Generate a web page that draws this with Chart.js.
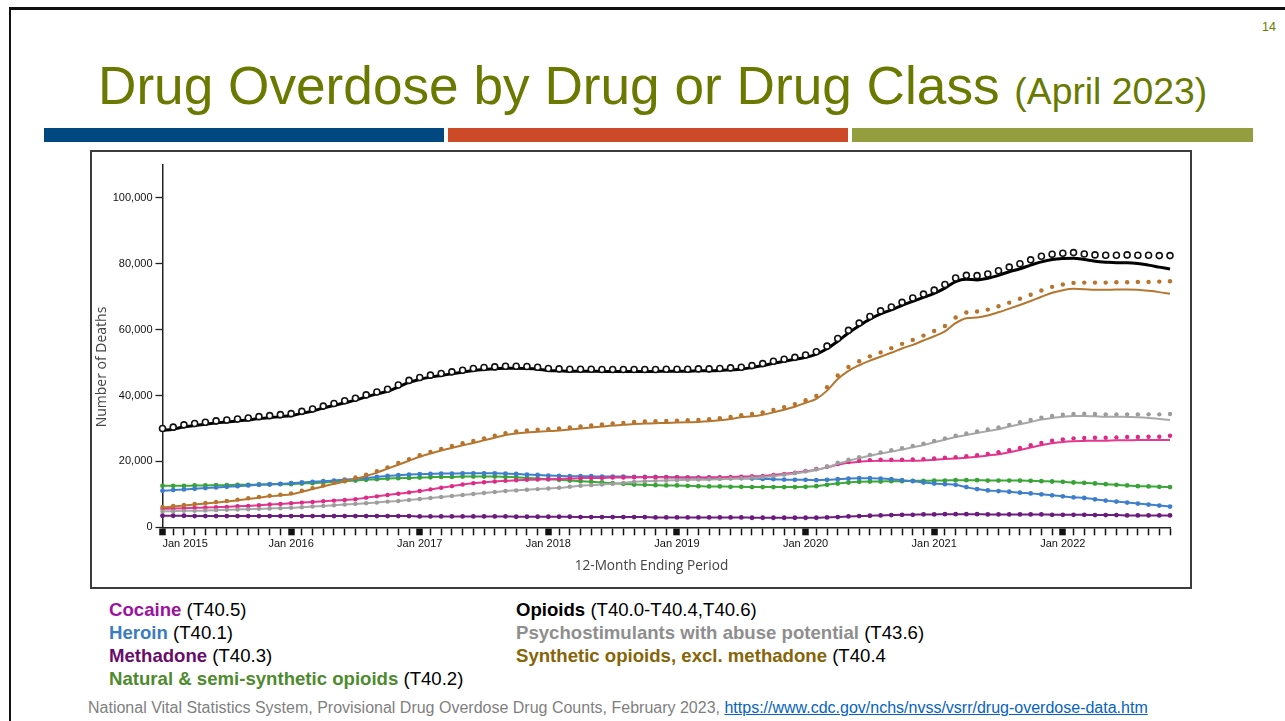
<!DOCTYPE html>
<html>
<head>
<meta charset="utf-8">
<script src="https://cdn.jsdelivr.net/npm/chart.js@4.4.1/dist/chart.umd.min.js"></script>
<style>
  html, body { margin: 0; padding: 0; background: #fff; }
  body { width: 1285px; height: 721px; position: relative; overflow: hidden; font-family: "Liberation Sans", Arial, sans-serif; }
  .frame { position: absolute; left: 9px; top: 7px; width: 1300px; height: 740px; border-top: 3px solid #111; border-left: 2px solid #111; }
  .num { position: absolute; left: 1262px; top: 20px; font-size: 12.5px; color: #6a7a00; }
  .title { position: absolute; left: 98px; top: 59px; margin: 0; font-weight: normal; font-size: 53.2px; line-height: 1; color: #6a7a00; white-space: nowrap; }
  .title small { font-size: 37.3px; }
  .bar { position: absolute; top: 128px; height: 14px; }
  .b1 { left: 44px; width: 400px; background: #00487f; }
  .b2 { left: 448px; width: 400px; background: #cd4a28; }
  .b3 { left: 852px; width: 401px; background: #949e3e; }
  .box { position: absolute; left: 90px; top: 150px; width: 1102px; height: 439px; border: 2px solid #3c3c3c; box-sizing: border-box; pointer-events: none; }
  #chart { position: absolute; left: 92px; top: 152px; filter: blur(0.35px); }
  .legend { position: absolute; top: 598px; font-size: 18.6px; line-height: 23px; color: #000; white-space: nowrap; }
  .legend b { font-weight: bold; }
  .lc { left: 109px; }
  .rc { left: 516px; }
  .src { position: absolute; left: 88px; top: 699px; font-size: 16px; line-height: 18px; color: #7f7f7f; white-space: nowrap; }
  .src a { color: #0563c1; text-decoration: underline; }
</style>
</head>
<body>
<div class="frame"></div>
<div class="num">14</div>
<h1 class="title">Drug Overdose by Drug or Drug Class <small>(April 2023)</small></h1>
<div class="bar b1"></div>
<div class="bar b2"></div>
<div class="bar b3"></div>
<canvas id="chart" width="1098" height="435"></canvas>
<div class="box"></div>
<div class="legend lc">
  <div><b style="color:#9b139e">Cocaine</b> (T40.5)</div>
  <div><b style="color:#3a7cc3">Heroin</b> (T40.1)</div>
  <div><b style="color:#6a0d6a">Methadone</b> (T40.3)</div>
  <div><b style="color:#4e8a2e">Natural &amp; semi-synthetic opioids</b> (T40.2)</div>
</div>
<div class="legend rc">
  <div><b style="color:#000">Opioids</b> (T40.0-T40.4,T40.6)</div>
  <div><b style="color:#8e8e8e">Psychostimulants with abuse potential</b> (T43.6)</div>
  <div><b style="color:#866508">Synthetic opioids, excl. methadone</b> (T40.4</div>
</div>
<div class="src">National Vital Statistics System, Provisional Drug Overdose Drug Counts, February 2023, <a href="#">https://www.cdc.gov/nchs/nvss/vsrr/drug-overdose-data.htm</a></div>

<script>
// 12-month ending periods, Jan 2015 through Nov 2022
const years = [2015, 2016, 2017, 2018, 2019, 2020, 2021, 2022];
const monthNames = ['Jan','Feb','Mar','Apr','May','Jun','Jul','Aug','Sep','Oct','Nov','Dec'];
const lastMonthOf2022 = 'Nov';
const periods = [];
for (const y of years) {
  for (const m of monthNames) {
    periods.push(m + ' ' + y);
    if (y === 2022 && m === lastMonthOf2022) break;
  }
}
const yearTicks = ['Jan 2015','Jan 2016','Jan 2017','Jan 2018','Jan 2019','Jan 2020','Jan 2021','Jan 2022'];
const yTicks = [0, 20000, 40000, 60000, 80000, 100000];
const yMax = 110000;

// Reported counts (lines)
const opioidsReported = [
  29400,29800,30500,30900,31300,31700,32000,32300,32600,33000,33300,33600,
  33900,34600,35300,36200,37000,37800,38600,39600,40500,41300,42600,44000,
  44900,45600,46100,46600,47100,47600,47900,48100,48300,48300,48200,48000,
  47600,47500,47400,47400,47400,47300,47300,47300,47300,47300,47300,47400,
  47400,47400,47500,47500,47600,47800,48000,48500,49100,49800,50400,51000,
  51600,52600,54200,56500,59000,61200,63200,64800,66000,67400,68600,69800,
  71000,72600,74600,75300,75100,75600,76500,77600,78500,79600,80600,81300,
  81600,81700,81300,80800,80500,80300,80300,80100,79600,79000,78400];
const syntheticReported = [
  6000,6300,6600,6900,7200,7500,7800,8200,8600,9000,9400,9700,
  10000,10800,11600,12400,13200,13900,14700,15600,16600,17800,19000,20200,
  21400,22400,23300,24100,24900,25600,26400,27200,28000,28500,28800,29000,
  29200,29400,29700,30000,30300,30600,30900,31100,31400,31500,31600,31700,
  31800,31900,32000,32200,32500,32900,33400,33700,34200,34900,35700,36600,
  37800,39000,41500,45000,47500,49200,50600,51800,53000,54300,55400,56700,
  58000,59500,62000,63500,63700,64300,65300,66400,67500,68700,70000,71200,
  72000,72400,72300,72100,72100,72200,72200,72100,71800,71400,70900];
const psychostimReported = [
  4800,4900,5000,5000,5100,5200,5300,5400,5500,5600,5700,5800,
  5900,6100,6300,6500,6700,6900,7100,7300,7500,7800,8000,8300,
  8600,8900,9200,9500,9800,10100,10400,10700,11000,11200,11400,11600,
  11800,12000,12300,12600,12800,13000,13200,13500,13800,14000,14100,14200,
  14300,14400,14400,14500,14600,14700,14800,15000,15200,15500,15900,16300,
  16800,17400,18200,19300,20200,21000,21700,22400,23000,23600,24300,25000,
  25800,26600,27400,28000,28600,29200,29800,30600,31300,32000,32700,33200,
  33600,33800,33800,33700,33600,33600,33500,33400,33200,32900,32600];
const cocaineReported = [
  5600,5700,5800,5900,6000,6100,6200,6400,6500,6700,6900,7100,
  7300,7500,7700,7900,8100,8300,8500,9000,9400,9800,10200,10600,
  11000,11500,12000,12500,13000,13400,13700,13900,14100,14300,14400,14500,
  14600,14700,14800,14900,15000,15000,15100,15100,15200,15200,15200,15200,
  15100,15100,15100,15200,15200,15300,15400,15500,15600,15900,16200,16600,
  17000,17500,18200,19000,19600,19900,20100,20200,20200,20200,20200,20300,
  20500,20700,20900,21100,21400,21800,22200,22800,23500,24200,24900,25500,
  25900,26100,26200,26300,26300,26400,26400,26500,26500,26500,26500];
const heroin = [
  11100,11300,11500,11700,11900,12100,12300,12500,12700,12900,13100,13200,
  13400,13600,13800,14000,14200,14500,14700,15000,15300,15600,15800,16000,
  16100,16200,16300,16300,16400,16400,16400,16400,16300,16200,16000,15900,
  15700,15600,15500,15500,15500,15400,15400,15400,15300,15300,15300,15200,
  15200,15100,15100,15000,15000,14900,14900,14800,14700,14600,14500,14400,
  14400,14300,14400,14600,14800,14900,14900,14800,14600,14300,14000,13600,
  13300,13100,12900,12200,11600,11200,11000,10800,10500,10300,10000,9700,
  9400,9100,8900,8500,8100,7800,7500,7200,6900,6600,6300];
const naturalSemi = [
  12600,12600,12600,12700,12700,12800,12800,12900,12900,13000,13000,13100,
  13100,13300,13400,13600,13800,14000,14200,14400,14600,14800,14900,15000,
  15100,15200,15300,15300,15400,15400,15400,15400,15300,15200,15000,14800,
  14600,14400,14200,14000,13800,13600,13400,13200,13000,12900,12800,12700,
  12700,12600,12500,12400,12400,12300,12300,12200,12200,12200,12200,12200,
  12300,12500,12900,13300,13600,13800,13900,13900,14000,14000,14100,14100,
  14200,14200,14300,14300,14300,14200,14200,14200,14200,14100,14000,13900,
  13800,13600,13500,13300,13100,12900,12700,12500,12400,12300,12200];
const methadone = [
  3500,3500,3500,3400,3400,3400,3400,3400,3400,3400,3400,3400,
  3400,3400,3400,3400,3400,3400,3400,3400,3400,3400,3400,3400,
  3300,3300,3300,3300,3300,3300,3300,3300,3300,3200,3200,3200,
  3200,3200,3200,3100,3100,3100,3100,3100,3100,3100,3000,3000,
  3000,3000,3000,3000,3000,3000,3000,2900,2900,2900,2900,2900,
  2900,2900,3000,3100,3300,3400,3500,3600,3700,3800,3800,3900,
  3900,4000,4000,4000,4000,3900,3900,3900,3900,3900,3900,3800,
  3800,3800,3800,3700,3700,3700,3600,3600,3600,3600,3600];

// Predicted counts (markers)
const opioidsPredicted = [
  30000,30400,31100,31500,31900,32300,32600,32900,33200,33600,33900,34200,
  34500,35200,35900,36800,37600,38400,39200,40200,41100,41900,43200,44600,
  45500,46200,46700,47200,47700,48200,48500,48700,48900,48900,48800,48600,
  48200,48100,48000,48000,48000,47900,47900,47900,47900,47900,47900,48000,
  48000,48000,48100,48100,48200,48400,48600,49100,49700,50400,51000,51600,
  52300,53300,55000,57300,59800,62000,64000,65700,66900,68300,69600,70800,
  72000,73700,75700,76500,76400,76900,77900,79000,80000,81200,82300,82900,
  83200,83400,83000,82700,82600,82600,82700,82600,82600,82500,82500];
const syntheticPredicted = [
  6200,6500,6800,7100,7400,7700,8000,8400,8800,9200,9600,9900,
  10300,11100,11900,12700,13500,14300,15100,16000,17000,18200,19500,20700,
  21900,22900,23800,24700,25500,26200,27000,27800,28600,29100,29400,29600,
  29800,30000,30300,30600,30900,31200,31500,31700,32000,32100,32200,32300,
  32400,32500,32600,32800,33100,33500,34000,34400,34900,35600,36500,37400,
  38600,39900,42500,46100,48700,50400,51900,53100,54400,55700,56900,58200,
  59600,61100,63700,65200,65500,66100,67100,68200,69400,70600,71900,73000,
  73700,74200,74300,74300,74300,74400,74400,74500,74500,74600,74700];
const psychostimPredicted = [
  4800,4900,5000,5000,5100,5200,5300,5400,5500,5600,5700,5800,
  5900,6100,6300,6500,6700,6900,7100,7300,7500,7800,8000,8300,
  8600,8900,9200,9500,9800,10100,10400,10700,11000,11200,11400,11600,
  11800,12000,12300,12600,12800,13000,13200,13500,13800,14000,14100,14200,
  14300,14400,14500,14600,14700,14800,14900,15100,15300,15600,16000,16500,
  17000,17600,18500,19600,20500,21300,22000,22700,23400,24000,24700,25400,
  26200,27000,27800,28500,29100,29700,30300,31100,31900,32600,33300,33800,
  34200,34400,34500,34400,34300,34300,34300,34300,34300,34300,34400];
const cocainePredicted = [
  5600,5700,5800,5900,6000,6100,6200,6400,6500,6700,6900,7100,
  7300,7500,7700,7900,8100,8300,8500,9000,9400,9800,10200,10600,
  11000,11500,12000,12500,13000,13400,13700,13900,14100,14300,14400,14500,
  14600,14700,14800,14900,15000,15000,15100,15100,15200,15200,15200,15200,
  15100,15100,15100,15200,15200,15300,15400,15500,15600,15900,16200,16600,
  17100,17700,18400,19200,19800,20200,20400,20500,20500,20500,20600,20700,
  20900,21100,21300,21600,21900,22300,22800,23400,24100,24900,25600,26300,
  26700,27000,27100,27200,27200,27300,27400,27400,27500,27500,27800];

const FONT = '"Liberation Sans", Arial, sans-serif';
const AXIS_FONT = '"Open Sans", "Liberation Sans", sans-serif';
const xTitle = '12-Month Ending Period';
const yTitle = 'Number of Deaths';

function lineSet(data, color, width) {
  return { data, borderColor: color, borderWidth: width, pointRadius: 0,
           cubicInterpolationMode: 'monotone', fill: false };
}
function markSet(data, fill, stroke, radius, bw) {
  return { data, showLine: false, pointRadius: radius, pointBorderWidth: bw,
           pointBackgroundColor: fill, pointBorderColor: stroke, borderColor: stroke };
}

const datasets = [
  markSet(opioidsPredicted, '#ffffff', '#111111', 3, 1.6),
  lineSet(opioidsReported, '#000000', 3),
  markSet(syntheticPredicted, '#b8732d', '#b8732d', 2.2, 0),
  lineSet(syntheticReported, '#b5762f', 2),
  markSet(psychostimPredicted, '#9c9c9c', '#9c9c9c', 2.2, 0),
  lineSet(psychostimReported, '#a8a8a8', 2),
  markSet(cocainePredicted, '#dc2a86', '#dc2a86', 2.2, 0),
  lineSet(cocaineReported, '#e23a8e', 2),
  markSet(heroin, '#3d7ecb', '#3d7ecb', 2.4, 0),
  lineSet(heroin, '#4080cc', 2),
  markSet(naturalSemi, '#38a236', '#38a236', 2.4, 0),
  lineSet(naturalSemi, '#3caa3a', 2),
  markSet(methadone, '#6a1a7c', '#6a1a7c', 2.4, 0),
  lineSet(methadone, '#6e2080', 2)
];

// Axis titles, placed under the period axis and beside the count axis
const axisTitles = {
  id: 'axisTitles',
  afterDraw(chart) {
    const { ctx, chartArea } = chart;
    ctx.save();
    ctx.fillStyle = '#444';
    ctx.textAlign = 'center';
    ctx.textBaseline = 'middle';
    ctx.font = '13.6px ' + AXIS_FONT;
    ctx.fillText(xTitle, chartArea.left + 489, chartArea.bottom + 38.5);
    ctx.translate(10, chartArea.top + 202);
    ctx.rotate(-Math.PI / 2);
    ctx.font = '14px ' + AXIS_FONT;
    ctx.fillText(yTitle, 0, 0);
    ctx.restore();
  }
};

new Chart(document.getElementById('chart'), {
  type: 'line',
  data: { labels: periods, datasets },
  plugins: [axisTitles],
  options: {
    responsive: false,
    devicePixelRatio: 1,
    animation: false,
    events: [],
    layout: { padding: { left: 0, top: 13, right: 20, bottom: 0 } },
    plugins: { legend: { display: false }, tooltip: { enabled: false } },
    scales: {
      x: {
        type: 'category',
        offset: false,
        grid: {
          offset: false,
          drawOnChartArea: false,
          drawTicks: true,
          tickLength: 8,
          tickColor: '#111',
          tickWidth: (c) => yearTicks.includes(periods[c.index]) ? 6.5 : 1.5
        },
        border: { display: true, color: '#222', width: 1.5 },
        ticks: {
          autoSkip: false, maxRotation: 0, minRotation: 0, align: 'inner',
          padding: 2, color: '#111',
          font: { family: FONT, size: 11 },
          callback: (v, i) => yearTicks.includes(periods[i]) ? periods[i] : ''
        },
        afterFit: (s) => { s.height = 59.7; }
      },
      y: {
        min: 0, max: yMax,
        afterBuildTicks: (s) => { s.ticks = yTicks.map((v) => ({ value: v })); },
        grid: { drawOnChartArea: false, drawTicks: true, tickLength: 7, tickColor: '#222', tickWidth: 1.3 },
        border: { display: true, color: '#222', width: 1.5 },
        ticks: {
          padding: 3, color: '#111',
          font: { family: FONT, size: 11 },
          callback: (v) => Number(v).toLocaleString('en-US')
        },
        afterFit: (s) => { s.width = 70.5; }
      }
    }
  }
});
</script>
</body>
</html>
